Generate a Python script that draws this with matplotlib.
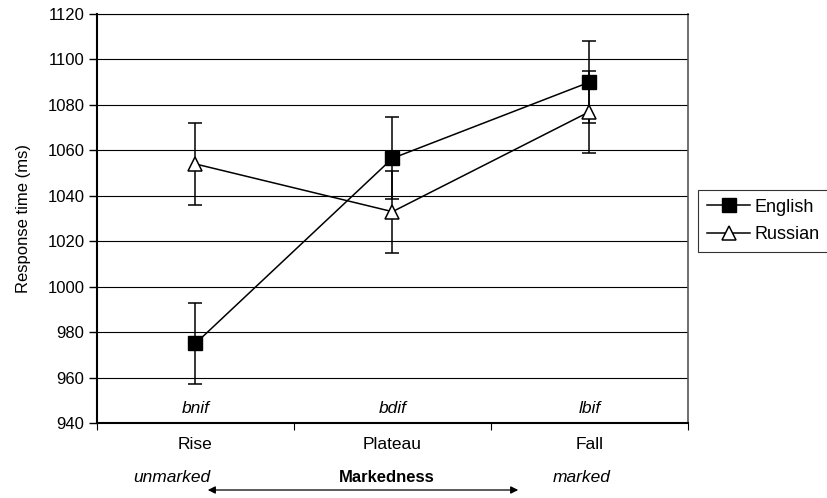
import numpy as np
import matplotlib.pyplot as plt
from matplotlib.lines import Line2D
from matplotlib.patches import FancyArrowPatch

plt.rcParams['font.family'] = ['Liberation Sans', 'DejaVu Sans']

# contour conditions and mean response times
contours = ['Rise', 'Plateau', 'Fall']
words = ['bnif', 'bdif', 'lbif']
english = [975, 1056.5, 1090]
russian = [1054, 1033, 1077]
english_err = [18, 18, 18]
russian_err = [18, 18, 18]
yticks = np.arange(940, 1121, 20)

fig = plt.figure(figsize=(8.28, 4.98), dpi=100)
ax = fig.add_axes([0.1171, 0.1506, 0.7138, 0.8213])

x = np.arange(len(contours))

for v in yticks:
    ax.axhline(v, color='black', lw=0.8, zorder=0)

ax.errorbar(x, english, yerr=english_err, color='black', lw=1.1,
            marker='s', markersize=10, markerfacecolor='black',
            markeredgecolor='black', capsize=5, elinewidth=1.1,
            capthick=1.1, zorder=3)
ax.errorbar(x, russian, yerr=russian_err, color='black', lw=1.1,
            marker='^', markersize=10, markerfacecolor='white',
            markeredgecolor='black', markeredgewidth=1.1, capsize=5,
            elinewidth=1.1, capthick=1.1, zorder=3)

ax.set_xlim(-0.5, 2.5)
ax.set_ylim(940, 1120)
ax.set_yticks(yticks)
ax.tick_params(axis='y', labelsize=12, length=6, width=1, pad=3)

# category labels sit between boundary ticks
ax.set_xticks([-0.5, 0.5, 1.5, 2.5])
ax.set_xticklabels([])
ax.tick_params(axis='x', length=5, width=0.8)
for i, c in enumerate(contours):
    ax.text(i, -0.052, c, transform=ax.get_xaxis_transform(),
            ha='center', va='center', fontsize=12.5)
for i, w in enumerate(words):
    ax.text(i, 946.5, w, ha='center', va='center', fontsize=12.5,
            style='italic')

ax.set_ylabel('Response time (ms)', fontsize=12, labelpad=12)

for s in ['left', 'bottom']:
    ax.spines[s].set_linewidth(1.5)
ax.spines['top'].set_linewidth(0.8)
ax.spines['right'].set_color('#555555')
ax.spines['right'].set_linewidth(1.2)

# markedness scale under the axis
ty = 1 - 478 / 498
fig.text(172 / 828, ty, 'unmarked', ha='center', va='center',
         fontsize=12.5, style='italic')
fig.text(387 / 828, ty, 'Markedness', ha='center', va='center',
         fontsize=12, weight='bold')
fig.text(582 / 828, ty, 'marked', ha='center', va='center',
         fontsize=12.5, style='italic')
fig.add_artist(FancyArrowPatch(
    (205 / 828, 1 - 490 / 498), (521 / 828, 1 - 490 / 498),
    transform=fig.transFigure, arrowstyle='<|-|>', mutation_scale=11,
    color='black', lw=0.9))

handles = [
    Line2D([], [], color='black', lw=1.1, marker='s', markersize=10,
           markerfacecolor='black'),
    Line2D([], [], color='black', lw=1.1, marker='^', markersize=10,
           markerfacecolor='white', markeredgewidth=1.1),
]
leg = ax.legend(handles, ['English', 'Russian'], loc='center left',
                bbox_to_anchor=(1.017, 0.494), fontsize=13, frameon=True,
                fancybox=False, edgecolor='black', handlelength=2.4,
                handletextpad=0.25, borderpad=0.5, labelspacing=0.6,
                borderaxespad=0)
leg.get_frame().set_linewidth(0.8)

fig.savefig('out.png', dpi=100)
